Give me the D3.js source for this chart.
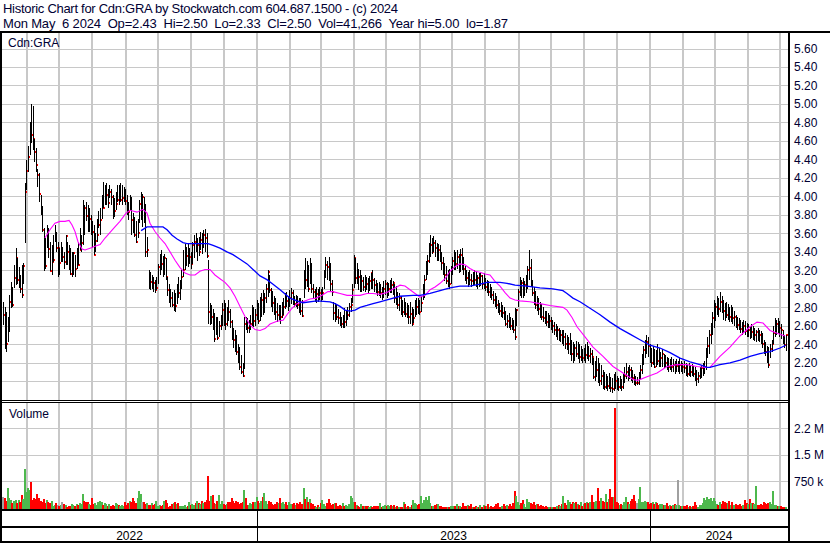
<!DOCTYPE html>
<html><head><meta charset="utf-8">
<script src="https://cdn.jsdelivr.net/npm/d3@7"></script>
<style>
body{margin:0;background:#fff}
svg{display:block}
text{font-family:"Liberation Sans",Arial,sans-serif;white-space:pre}
</style>
</head><body><svg id="c" width="830" height="543"></svg>
<script>
// ---------- DATA ----------
const headerLine1 = "Historic Chart for Cdn:GRA by Stockwatch.com 604.687.1500 - (c) 2024";
const headerLine2 = "Mon May  6 2024  Op=2.43  Hi=2.50  Lo=2.33  Cl=2.50  Vol=41,266  Year hi=5.00  lo=1.87";
const symbol = "Cdn:GRA";
const startDate = "2022-05-10", endDate = "2024-05-06";
const years = [2022, 2023, 2024];
const priceTicks = [2.0,2.2,2.4,2.6,2.8,3.0,3.2,3.4,3.6,3.8,4.0,4.2,4.4,4.6,4.8,5.0,5.2,5.4,5.6];
const volTicks = [750, 1500, 2250];            // thousands of shares
const volTickLabels = ["750 k", "1.5 M", "2.2 M"];

const highs = [
2.86,2.80,2.75,2.70,2.93,3.07,3.02,3.26,3.44,3.33,3.24,3.15,3.26,3.28,
4.15,4.39,4.55,4.80,5.00,4.98,4.62,4.52,4.30,4.25,4.02,3.90,
3.66,3.55,3.69,3.66,3.51,3.47,3.58,3.69,3.62,3.51, 3.44,3.51,3.45,3.40,3.58,3.51,3.47,3.44,3.40,3.40,
3.37,3.44,3.51,3.66,3.58,3.96,3.91,3.94,3.91,3.87, 3.80,3.73,3.69,3.60,3.76,3.84,3.87,4.02,4.16,4.12,
4.14,4.08,4.12,4.08,4.02,3.98,4.05,4.12,4.12,4.14, 4.12,4.10,4.08,4.02,3.94,4.02,3.99,3.82,3.78,3.73,
3.76,3.96,4.05,
4.03,3.99,3.92,3.56,3.20,3.18,3.15,3.13,3.10,3.13,
3.27,3.38,3.42,3.36,3.38,3.33,3.13,3.05,3.00,2.97,
2.99,2.95,3.05,3.13,3.10,3.20,3.42,3.49,3.45,3.49,
3.44,3.40,3.51,3.58,3.60,3.55,3.56,3.62,3.60,3.64,
3.65,3.60,3.31,2.85,2.82,2.78,2.74,2.70,2.70,2.65,
2.72,2.85,2.88,2.85,2.80,2.88,2.78,2.66,2.58,2.56,
2.50,2.40,2.37,2.28,2.20,2.70,2.70,2.68,2.66,2.72,
2.83,2.80,2.78,2.88,2.85,2.91,2.95,2.99,2.96,3.05,
3.20,3.15,3.01,2.98,2.92,2.90,2.85,2.82,2.82,2.86,
2.90,2.95,2.97,2.92,2.99,3.01,2.99,2.92,2.93,2.92,
2.90,2.90,2.88,3.20,3.33,3.30,3.26,3.33,3.28,3.05,
3.00,3.02,3.00,3.02,3.00,3.02,3.20,3.35,3.30,3.35,
3.28,3.10,2.86,2.85,2.82,2.78,2.75,2.70,2.72,2.79,
2.76,2.80,2.85,2.90,3.05,3.37,3.33,3.28,3.22,3.20,
3.15,3.13,3.15,3.13,3.12,3.14,3.17,3.20,3.12,3.10,
3.06,3.07,3.05,3.02,3.08,3.10,3.07,3.06,3.10,3.12,
3.08,3.05,3.03,2.97,2.95,2.92,2.88,2.90,2.86,2.85,
2.82,2.86,2.80,2.78,2.88,2.90,2.90,2.88,2.92,3.05,
3.15,3.30,3.37,3.50,3.58,3.55,3.57,3.53,3.50,3.48,
3.47,3.40,3.35,3.28,3.25,3.20,3.22,3.25,3.35,3.42,
3.40,3.42,3.38,3.43,3.44,3.35,3.25,3.20,3.18,3.20,
3.16,3.18,3.20,3.18,3.15,3.17,3.18,3.15,3.17,3.12,
3.10,3.08,3.05,3.02,2.98,2.95,2.92,2.88,2.85,2.86,
2.82,2.80,2.76,2.72,2.74,2.70,2.68,2.66,2.79,2.78,
3.00,3.13,3.10,3.12,3.08,3.15,3.25,3.42,3.32,3.10,
3.02,2.98,2.92,2.90,2.86,2.84,2.80,2.76,2.76,2.74,
2.72,2.70,2.66,2.64,2.62,2.60,2.58,2.55,2.56,2.55,
2.52,2.50,2.48,2.52,2.45,2.42,2.40,2.44,2.42,2.40,
2.38,2.35,2.36,2.40,2.42,2.38,2.36,2.34,2.25,2.22,
2.27,2.25,2.20,2.18,2.12,2.10,2.08,2.06,2.09,2.05,
2.04,2.08,2.10,2.06,2.04,2.06,2.02,2.08,2.15,2.20,
2.16,2.18,2.15,2.12,2.08,2.06,2.05,2.10,2.18,2.30,
2.38,2.45,2.50,2.48,2.40,2.36,2.38,2.35,2.34,2.40,
2.36,2.32,2.35,2.30,2.28,2.26,2.25,2.24,2.26,2.24,
2.22,2.24,2.22,2.25,2.22,2.20,2.22,2.20,2.18,2.20,
2.18,2.19,2.17,2.16,2.12,2.10,2.16,2.18,2.20,2.22,
2.36,2.48,2.55,2.63,2.75,2.88,2.85,2.92,2.90,2.97,
2.92,2.88,2.85,2.86,2.84,2.80,2.82,2.80,2.76,2.72,
2.70,2.68,2.66,2.64,2.66,2.65,2.63,2.62,2.60,2.62,
2.60,2.58,2.56,2.58,2.55,2.54,2.52,2.45,2.42,2.38,
2.37,2.40,2.45,2.60,2.69,2.66,2.68,2.65,2.62,2.55,
2.50,2.50];

const lows = [
2.61,2.35,2.32,2.42,2.53,2.79,2.80,3.01,3.04,3.05,3.01,2.95,2.90,3.05,
3.50,4.07,4.26,4.45,4.58,4.50,4.37,4.26,4.10,3.94,3.80,3.61,
3.19,3.22,3.44,3.33,3.19,3.15,3.29,3.51,3.40,3.13, 3.15,3.29,3.29,3.22,3.26,3.26,3.20,3.15,3.13,3.15,
3.13,3.22,3.26,3.42,3.40,3.47,3.58,3.73,3.62,3.62, 3.58,3.44,3.37,3.40,3.51,3.66,3.58,3.76,3.87,3.91,
3.91,3.87,3.98,3.91,3.76,3.78,3.85,3.94,3.91,3.94, 3.91,3.94,3.91,3.80,3.75,3.84,3.58,3.60,3.56,3.50,
3.55,3.71,3.75,
3.67,3.71,3.35,3.35,3.00,2.99,3.00,2.97,2.95,2.99,
3.05,3.15,3.20,3.13,3.15,3.10,2.92,2.85,2.80,2.80,
2.76,2.75,2.84,2.90,2.88,3.00,3.13,3.20,3.25,3.24,
3.27,3.22,3.27,3.33,3.40,3.30,3.36,3.42,3.38,3.44,
3.40,3.33,2.62,2.61,2.62,2.55,2.43,2.50,2.45,2.48,
2.55,2.60,2.60,2.56,2.60,2.65,2.58,2.45,2.36,2.32,
2.28,2.20,2.12,2.08,2.05,2.13,2.55,2.52,2.52,2.55,
2.60,2.59,2.60,2.66,2.62,2.65,2.70,2.72,2.74,2.85,
2.91,2.95,2.80,2.75,2.72,2.66,2.64,2.66,2.62,2.68,
2.72,2.78,2.80,2.76,2.80,2.84,2.82,2.80,2.80,2.78,
2.74,2.72,2.70,2.90,3.00,3.02,2.97,3.05,2.95,2.90,
2.86,2.85,2.86,2.88,2.86,2.88,3.00,3.12,3.10,3.08,
2.97,2.92,2.66,2.64,2.66,2.62,2.60,2.58,2.58,2.58,
2.60,2.66,2.70,2.75,2.85,3.01,3.05,3.05,2.99,2.97,
2.97,2.98,2.97,2.99,2.96,2.98,3.00,3.00,2.97,2.95,
2.92,2.92,2.90,2.88,2.90,2.93,2.90,2.92,2.95,2.96,
2.93,2.85,2.82,2.78,2.76,2.72,2.70,2.72,2.70,2.68,
2.62,2.62,2.60,2.63,2.70,2.72,2.73,2.72,2.75,2.88,
2.90,3.10,3.15,3.28,3.35,3.38,3.40,3.35,3.30,3.30,
3.29,3.20,3.15,3.08,3.05,3.02,3.00,3.05,3.15,3.20,
3.20,3.22,3.17,3.18,3.20,3.15,3.08,3.05,3.02,3.04,
3.02,3.03,3.04,3.02,3.00,3.02,3.03,3.00,3.00,2.98,
2.96,2.92,2.90,2.88,2.84,2.80,2.78,2.74,2.72,2.70,
2.68,2.66,2.60,2.58,2.58,2.56,2.55,2.52,2.45,2.60,
2.80,2.92,2.90,2.90,2.92,2.95,3.00,3.10,3.02,2.92,
2.82,2.78,2.76,2.72,2.68,2.66,2.64,2.62,2.60,2.58,
2.58,2.55,2.52,2.50,2.48,2.45,2.44,2.42,2.40,2.38,
2.35,2.34,2.30,2.28,2.22,2.20,2.22,2.26,2.24,2.20,
2.22,2.20,2.22,2.20,2.24,2.22,2.20,2.18,2.02,2.00,
2.05,1.98,1.95,1.96,1.92,1.91,1.92,1.90,1.92,1.88,
1.87,1.90,1.92,1.91,1.90,1.92,1.90,1.92,1.98,2.02,
2.00,2.02,2.00,1.98,1.96,1.95,1.96,1.96,2.02,2.08,
2.18,2.25,2.30,2.26,2.20,2.15,2.18,2.14,2.16,2.18,
2.16,2.15,2.16,2.14,2.14,2.12,2.10,2.12,2.10,2.10,
2.08,2.10,2.10,2.08,2.10,2.08,2.09,2.06,2.05,2.06,
2.05,2.06,2.05,2.00,1.95,1.98,2.02,2.04,2.06,2.08,
2.12,2.25,2.30,2.40,2.50,2.58,2.65,2.72,2.70,2.75,
2.74,2.66,2.65,2.68,2.66,2.64,2.64,2.62,2.60,2.58,
2.56,2.55,2.52,2.50,2.52,2.50,2.48,2.48,2.46,2.47,
2.45,2.44,2.43,2.44,2.42,2.40,2.36,2.30,2.27,2.20,
2.14,2.25,2.32,2.40,2.48,2.50,2.52,2.48,2.46,2.40,
2.36,2.33];

const closes = [
2.72,2.62,2.40,2.56,2.86,2.99,2.83,3.12,3.33,3.10,3.12,3.00,2.93,3.25,
4.05,4.27,4.43,4.76,4.66,4.62,4.48,4.34,4.23,4.03,3.86,3.64,
3.26,3.25,3.54,3.43,3.19,3.29,3.31,3.55,3.44,3.44, 3.28,3.35,3.35,3.29,3.57,3.40,3.30,3.16,3.20,3.39,
3.22,3.29,3.26,3.42,3.50,3.90,3.88,3.79,3.66,3.76, 3.70,3.62,3.37,3.52,3.58,3.69,3.75,3.95,3.87,3.99,
4.02,3.93,4.05,3.99,3.88,3.84,3.92,3.96,3.95,3.96, 3.98,4.03,3.95,3.85,3.83,3.90,3.75,3.68,3.58,3.51,
3.60,3.92,3.99,
3.99,3.78,3.40,3.42,3.17,3.07,3.10,3.06,2.99,3.01,
3.24,3.33,3.27,3.24,3.33,3.13,2.99,2.91,2.90,2.82,
2.88,2.81,2.97,2.95,3.05,3.13,3.20,3.27,3.36,3.29,
3.35,3.27,3.47,3.51,3.44,3.47,3.40,3.53,3.47,3.58,
3.55,3.36,2.75,2.63,2.70,2.63,2.46,2.58,2.47,2.60,
2.62,2.77,2.70,2.62,2.77,2.75,2.64,2.50,2.45,2.35,
2.32,2.25,2.16,2.10,2.06,2.62,2.60,2.58,2.60,2.62,
2.77,2.65,2.72,2.80,2.65,2.80,2.88,2.82,2.90,3.00,
3.18,2.99,2.97,2.85,2.80,2.75,2.72,2.78,2.70,2.72,
2.80,2.90,2.87,2.85,2.90,2.95,2.88,2.84,2.86,2.82,
2.80,2.76,2.71,3.17,3.10,3.15,3.00,3.26,3.00,2.97,
2.90,2.94,2.92,2.95,2.90,2.96,3.15,3.26,3.24,3.20,
3.05,2.97,2.74,2.78,2.70,2.68,2.64,2.62,2.66,2.64,
2.70,2.72,2.80,2.82,2.99,3.33,3.12,3.15,3.13,3.04,
3.08,3.02,3.10,3.05,3.00,3.08,3.17,3.10,3.04,3.02,
2.97,2.95,2.96,2.95,3.00,3.05,2.97,3.00,3.06,3.04,
3.06,2.90,2.95,2.83,2.90,2.80,2.75,2.78,2.73,2.74,
2.70,2.73,2.62,2.68,2.75,2.80,2.76,2.75,2.85,2.99,
3.10,3.22,3.30,3.39,3.47,3.40,3.50,3.44,3.38,3.42,
3.33,3.28,3.24,3.15,3.08,3.12,3.05,3.18,3.30,3.39,
3.27,3.35,3.25,3.37,3.28,3.22,3.17,3.12,3.15,3.10,
3.08,3.14,3.10,3.06,3.12,3.08,3.14,3.05,3.10,3.02,
3.05,2.97,2.99,2.93,2.88,2.84,2.82,2.80,2.76,2.72,
2.74,2.70,2.62,2.65,2.62,2.60,2.58,2.56,2.48,2.77,
2.97,3.08,3.06,3.00,3.04,3.10,3.20,3.23,3.08,2.96,
2.90,2.82,2.85,2.78,2.75,2.70,2.68,2.66,2.64,2.62,
2.65,2.58,2.60,2.55,2.52,2.55,2.48,2.50,2.45,2.48,
2.40,2.37,2.40,2.44,2.30,2.26,2.36,2.30,2.38,2.26,
2.30,2.25,2.32,2.28,2.36,2.27,2.30,2.26,2.05,2.10,
2.12,2.02,2.00,2.06,1.96,1.94,2.02,1.95,2.00,1.93,
1.92,2.05,2.00,1.99,1.94,1.96,1.94,2.04,2.06,2.10,
2.06,2.12,2.05,2.04,2.00,1.98,1.98,2.05,2.12,2.26,
2.34,2.40,2.43,2.38,2.25,2.20,2.31,2.16,2.25,2.22,
2.20,2.25,2.29,2.18,2.20,2.18,2.16,2.20,2.15,2.18,
2.14,2.17,2.17,2.18,2.13,2.16,2.14,2.10,2.08,2.12,
2.10,2.14,2.08,2.04,2.02,2.06,2.10,2.14,2.15,2.16,
2.30,2.38,2.50,2.58,2.68,2.70,2.80,2.86,2.78,2.86,
2.80,2.76,2.74,2.72,2.76,2.70,2.75,2.68,2.70,2.62,
2.61,2.60,2.57,2.55,2.60,2.54,2.52,2.55,2.50,2.53,
2.48,2.50,2.53,2.52,2.50,2.46,2.40,2.34,2.32,2.25,
2.18,2.35,2.40,2.52,2.58,2.62,2.56,2.58,2.55,2.45,
2.39,2.50];

// daily volume, thousands of shares
const volumesK = [
320,273,200,555,273,226,150,190,226,132,220,180,367,250,
1100,461,555,508,725,226,273,250,395,273,200,179,250,
150,226,179,132,200,60,90,132,85,70,85,179,120,85,38,56,45,113,85,60,100,85,140,120,
395,
200,179,160,120,85,273,113,132,90,160,200,160,85,150,110,56,113,56,85,70,132,100,85,56,90,60,179,85,130,200,160,273,200,150,273,
480,395,
179,160,113,140,85,85,132,85,110,200,56,85,56,90,200,226,150,38,56,100,132,160,120,132,56,70,56,85,38,60,160,85,113,90,132,200,150,113,200,132,160,226,
912,
200,340,380,132,113,200,380,113,200,113,85,120,160,179,273,200,150,200,160,113,132,170,
508,
273,85,85,132,100,160,160,320,200,132,200,300,420,200,113,200,160,100,85,120,160,150,273,132,160,100,160,85,160,120,113,132,85,150,113,170,
120,565,
245,300,170,245,150,113,60,38,85,38,132,226,100,56,150,254,150,85,110,140,140,60,85,70,140,56,85,60,100,
339,273,
170,170,90,56,30,113,56,70,56,56,25,56,38,56,70,56,56,132,38,56,85,60,85,70,85,60,85,38,56,40,25,38,179,100,38,60,38,85,226,150,113,85,120,
339,150,226,300,226,339,
132,56,56,85,113,113,56,56,40,25,25,20,38,56,56,70,56,113,70,70,38,132,56,56,85,70,113,38,38,56,38,25,85,38,85,56,70,113,38,70,38,56,113,132,38,38,60,113,56,85,56,113,70,132,
480,339,179,
85,132,226,100,38,254,179,132,100,160,85,113,104,56,85,60,38,56,28,38,20,20,30,20,70,85,60,100,
339,
132,85,226,160,120,179,132,160,104,85,179,70,100,132,179,150,160,
367,160,160,200,555,198,273,198,160,386,160,250,536,320,320,
2830,
160,132,85,100,85,179,320,179,120,198,254,367,198,150,250,
593,
160,179,198,179,160,113,130,160,113,160,132,85,113,100,85,85,132,56,85,70,85,100,85,
782,
85,56,70,56,56,85,28,56,38,60,160,85,38,85,85,150,292,226,320,254,292,200,292,198,104,85,160,104,198,160,132,150,198,85,160,85,100,85,85,104,70,85,226,132,100,254,150,132,104,
630,
85,85,104,85,160,132,100,132,160,120,
480,
85,85,70,56,56,38,40,41];

// moving averages (bar index, price)
const maShortIdx = [26.8,30.0,33.2,36.4,39.6,42.2,44.1,46.0,47.9,50.5,52.4,55.6,58.8,62.0,65.2,68.4,71.5,74.7,78.6,81.1,85.6,89.4,92.0,93.9,97.1,100.3,103.5,106.7,109.9,113.1,116.3,119.5,122.7,125.8,129.0,132.2,135.4,138.6,141.8,145.0,148.2,151.4,154.6,157.8,161.0,164.2,167.4,170.6,175.0,178.9,181.4,184.6,187.8,191.6,196.1,200.0,203.8,207.6,210.8,215.3,219.8,223.6,228.1,232.5,236.4,240.8,245.3,247.2,250.4,253.6,256.8,260.0,263.2,266.4,269.6,272.8,276.0,279.2,282.4,285.5,288.7,291.9,295.1,298.3,301.5,304.7,307.9,311.1,314.3,317.5,320.7,323.9,327.1,330.3,336.6,343.0,349.4,357.7,360.3,363.5,366.7,371.8,376.9,383.3,389.7,396.1,402.4,405.6,411.4,417.8,424.2,430.6,436.9,443.3,448.5,451.6,458.0,464.4,470.8,477.2,481.7,485.5,490.0,494.5,499.6];
const maShortVal = [3.55,3.64,3.71,3.73,3.73,3.74,3.69,3.62,3.51,3.43,3.42,3.44,3.46,3.48,3.55,3.61,3.67,3.73,3.82,3.85,3.83,3.86,3.82,3.71,3.62,3.55,3.49,3.40,3.31,3.23,3.17,3.15,3.15,3.19,3.21,3.21,3.15,3.11,3.07,3.01,2.92,2.81,2.70,2.61,2.56,2.55,2.57,2.62,2.65,2.66,2.72,2.79,2.84,2.86,2.89,2.90,2.93,2.97,2.97,2.95,2.93,2.93,2.93,2.95,2.95,2.94,2.96,2.98,3.01,3.04,3.03,2.99,2.95,2.91,2.93,2.99,3.02,3.06,3.11,3.19,3.24,3.27,3.26,3.22,3.19,3.18,3.16,3.15,3.08,3.03,2.96,2.90,2.88,2.87,2.86,2.84,2.82,2.80,2.77,2.69,2.59,2.48,2.37,2.27,2.16,2.09,2.02,2.01,2.05,2.09,2.16,2.18,2.18,2.16,2.15,2.15,2.27,2.37,2.49,2.59,2.64,2.63,2.55,2.52,2.49];
const maLongIdx = [88.2,92.0,102.2,104.8,108.0,111.2,115.0,117.5,131.0,134.2,138.6,143.1,146.9,151.4,155.9,159.7,164.2,168.6,172.5,177.0,183.3,187.8,191.6,200.6,208.9,212.1,215.3,218.5,221.7,224.9,228.1,232.5,236.4,240.8,245.3,253.6,261.9,266.4,272.8,279.2,285.5,291.9,298.3,304.7,309.2,317.5,322.0,327.1,334.7,343.0,351.3,357.7,360.3,364.1,368.6,375.0,381.4,387.8,394.2,400.5,406.9,413.3,419.7,426.1,432.5,438.9,445.2,449.7,451.6,458.0,464.4,470.8,477.2,483.5,490.0,496.4,500];
const maLongVal = [3.63,3.67,3.67,3.64,3.58,3.54,3.50,3.49,3.49,3.47,3.44,3.40,3.37,3.32,3.27,3.21,3.14,3.10,3.05,2.99,2.90,2.87,2.85,2.87,2.86,2.84,2.81,2.77,2.76,2.77,2.80,2.82,2.84,2.86,2.88,2.92,2.93,2.93,2.95,2.98,3.01,3.03,3.03,3.05,3.07,3.07,3.06,3.04,3.03,3.01,3.00,2.98,2.95,2.90,2.86,2.79,2.72,2.64,2.57,2.51,2.45,2.39,2.36,2.31,2.25,2.21,2.18,2.15,2.15,2.18,2.20,2.23,2.27,2.30,2.32,2.36,2.39];

// ---------- DRAW ----------
const svg = d3.select("#c");
const N = Math.min(highs.length, lows.length, closes.length, volumesK.length);
const plotL = 2, plotR = 788;
const x = d3.scaleLinear().domain([0, N - 1]).range([3, 785.7]);
const tx = d3.scaleTime().domain([new Date(startDate + "T00:00"), new Date(endDate + "T00:00")]).range([3, 785.7]);
const yP = d3.scaleLinear().domain([2.0, 5.6]).range([381.3, 48.5]);
const yV = d3.scaleLinear().domain([0, 2250]).range([508, 428.3]);
const txtCol = "#000033";
const gridCol = "#C8C8C8";

svg.append("rect").attr("width", 830).attr("height", 543).attr("fill", "#fff");

const g = svg.append("g").attr("shape-rendering", "crispEdges");

// horizontal price gridlines
g.selectAll(".hp").data(priceTicks).join("line")
  .attr("x1", plotL).attr("x2", plotR)
  .attr("y1", d => Math.round(yP(d)) + 0.5).attr("y2", d => Math.round(yP(d)) + 0.5)
  .attr("stroke", gridCol).attr("stroke-width", 1);

// volume gridlines
g.selectAll(".hv").data(volTicks).join("line")
  .attr("x1", plotL).attr("x2", plotR)
  .attr("y1", d => Math.round(yV(d)) + 0.5).attr("y2", d => Math.round(yV(d)) + 0.5)
  .attr("stroke", gridCol).attr("stroke-width", 1);

// monthly vertical gridlines
const months = d3.timeMonth.range(d3.timeMonth.ceil(tx.domain()[0]), tx.domain()[1]);
months.forEach(m => {
  const xm = Math.round(tx(m));
  g.append("line").attr("x1", xm).attr("x2", xm).attr("y1", 33).attr("y2", 400)
    .attr("stroke", gridCol).attr("stroke-width", 2);
  g.append("line").attr("x1", xm).attr("x2", xm).attr("y1", 403).attr("y2", 509)
    .attr("stroke", gridCol).attr("stroke-width", 2);
});

// volume bars
const volCol = i => {
  if (i === 0) return "#A0A0A0";
  const d = closes[i] - closes[i - 1];
  return d > 0.0001 ? "#4DB84D" : (d < -0.0001 ? "#FF0000" : "#A0A0A0");
};
const vb = g.append("g");
for (let i = 0; i < N; i++) {
  const xi = Math.round(x(i));
  const top = Math.round(yV(volumesK[i]));
  const h = Math.round(yV(0)) - top + 1;
  if (h <= 0) continue;
  vb.append("rect").attr("x", xi - 1).attr("y", top).attr("width", 2).attr("height", h)
    .attr("fill", volCol(i));
}

// price bars: close mark sits under the bar and peeks out to its right
const pb = g.append("g");
for (let i = 0; i < N; i++) {
  const xi = Math.round(x(i));
  const yh = Math.round(yP(highs[i])), yl = Math.round(yP(lows[i]));
  pb.append("rect").attr("x", xi).attr("y", Math.round(yP(closes[i])) - 1).attr("width", 2).attr("height", 2)
    .attr("fill", "#FF0000");
  pb.append("rect").attr("x", xi).attr("y", yh).attr("width", 1).attr("height", Math.max(1, yl - yh))
    .attr("fill", "#000");
}

// moving averages
const line = d3.line().x(d => x(d[0])).y(d => yP(d[1]));
svg.append("path").datum(d3.zip(maShortIdx, maShortVal)).attr("d", line)
  .attr("fill", "none").attr("stroke", "#FF00FF").attr("stroke-width", 1.1);
svg.append("path").datum(d3.zip(maLongIdx, maLongVal)).attr("d", line)
  .attr("fill", "none").attr("stroke", "#0000FF").attr("stroke-width", 1.3);

// frame
const fr = svg.append("g").attr("shape-rendering", "crispEdges").attr("fill", "#000");
fr.append("rect").attr("x", 0).attr("y", 31).attr("width", 830).attr("height", 2);
fr.append("rect").attr("x", 0).attr("y", 31).attr("width", 2).attr("height", 512);
fr.append("rect").attr("x", 788).attr("y", 31).attr("width", 2).attr("height", 512);
fr.append("rect").attr("x", 0).attr("y", 400).attr("width", 790).attr("height", 1);
fr.append("rect").attr("x", 0).attr("y", 402).attr("width", 790).attr("height", 1);
fr.append("rect").attr("x", 0).attr("y", 509).attr("width", 790).attr("height", 2);
fr.append("rect").attr("x", 0).attr("y", 526).attr("width", 790).attr("height", 2);
fr.append("rect").attr("x", 0).attr("y", 541).attr("width", 830).attr("height", 2);
years.slice(1).forEach(yr => {
  const xd = Math.round(tx(new Date(yr, 0, 1)));
  fr.append("rect").attr("x", xd).attr("y", 511).attr("width", 1).attr("height", 30);
});

// texts
svg.append("text").attr("x", 3).attr("y", 12.5).attr("font-size", 13).attr("fill", txtCol)
  .attr("textLength", 395).attr("lengthAdjust", "spacing").text(headerLine1);
svg.append("text").attr("x", 3).attr("y", 27.5).attr("font-size", 13).attr("fill", txtCol)
  .attr("textLength", 505).attr("lengthAdjust", "spacing").text(headerLine2);
svg.append("text").attr("x", 8).attr("y", 47).attr("font-size", 12).attr("fill", txtCol).text(symbol);
svg.append("text").attr("x", 9).attr("y", 417.5).attr("font-size", 12).attr("fill", txtCol).text("Volume");

svg.selectAll(".pl").data(priceTicks).join("text")
  .attr("x", 794).attr("y", d => yP(d) + 4.3).attr("font-size", 12).attr("fill", txtCol)
  .text(d => d.toFixed(2));
svg.selectAll(".vl").data(volTicks).join("text")
  .attr("x", 794).attr("y", d => yV(d) + 4.3).attr("font-size", 12).attr("fill", txtCol)
  .text((d, i) => volTickLabels[i]);

years.forEach(yr => {
  const a = Math.max(plotL, tx(new Date(yr, 0, 1)));
  const b = Math.min(plotR, tx(new Date(yr + 1, 0, 1)));
  svg.append("text").attr("x", (a + b) / 2).attr("y", 539.5).attr("text-anchor", "middle")
    .attr("font-size", 12).attr("fill", "#000").text(yr);
});
</script>
</body></html>
